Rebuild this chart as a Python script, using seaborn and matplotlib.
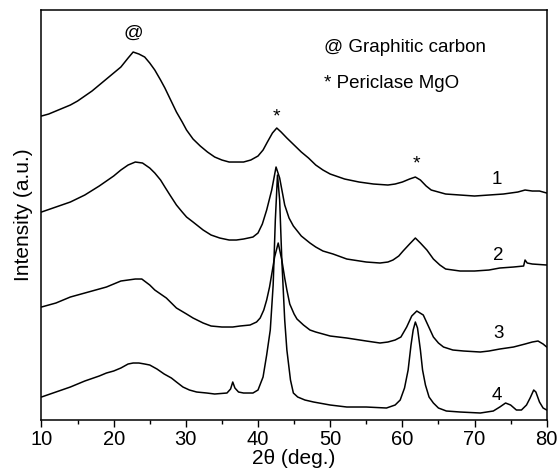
import numpy as np
import pandas as pd
import matplotlib
matplotlib.use("Agg")
import matplotlib.pyplot as plt
import seaborn as sns
from matplotlib.ticker import MultipleLocator

# %%
# values (2theta in deg, intensity in arbitrary units, offsets included)
two_theta_1 = [10, 11, 12, 13, 14, 15, 16, 17, 18, 19, 20, 21, 22, 22.7, 23.5, 24.3, 25, 25.7,
               26.5, 27.1, 27.9, 28.7, 29.5, 30.1, 31, 32, 33, 34, 35, 36, 37, 38, 39, 40, 40.7,
               41.3, 42, 42.6, 43.2, 44, 45, 46, 47, 48, 49, 50, 52, 54, 56, 58, 59, 60, 61, 61.8,
               62.5, 63.3, 64, 65, 66, 68, 70, 72, 74, 76, 77, 78, 79, 80]
intensity_1 = [304, 306, 309, 312, 315, 319, 324, 329, 335, 341, 347, 353, 362, 368, 366, 363, 357, 350,
               340, 332, 320, 308, 298, 290, 281, 274, 268, 263, 260, 258, 258, 258, 260, 264, 270,
               278, 287, 292, 288, 282, 275, 268, 262, 255, 250, 246, 241, 238, 236, 235, 236, 238, 241, 243,
               240, 234, 230, 228, 226, 225, 224, 225, 226, 228, 230, 229, 229, 227]

two_theta_2 = [10, 12, 14, 16, 18, 19, 20, 21, 22, 23, 24, 25, 25.7, 26.5, 27.1, 27.8, 28.7, 29.5,
               30.1, 31, 32.4, 33.5, 34.7, 36, 37, 38, 39.3, 40, 40.6, 41.2, 41.9, 42.5, 43, 43.7,
               44.3, 44.9, 46, 47.2, 48, 49, 50.4, 52.3, 55, 56.9, 58, 58.7, 59.5, 60.1, 61, 61.8,
               62.5, 63.4, 64.3, 65.2, 66, 68, 70, 72, 73.5, 75.4, 76.8, 77, 77.3, 78, 80]
intensity_2 = [208, 213, 218, 225, 234, 239, 244, 250, 255, 258, 257, 252, 247, 240, 233, 225, 215, 208,
               203, 198, 190, 185, 182, 180, 180, 181, 183, 187, 196, 210, 230, 253, 242, 215,
               202, 194, 184, 177, 173, 169, 166, 161, 158, 157, 158, 160, 164, 169, 176, 182,
               177, 170, 161, 155, 151, 149, 149, 150, 152, 153, 154, 160, 157, 156, 155]

two_theta_3 = [10, 12, 14, 16, 18, 19, 20, 21, 22, 23, 23.9, 25, 25.7, 26.5, 27.3, 28, 28.7, 30.1,
               31, 32.4, 33.5, 35, 36.5, 37.5, 38.9, 39.8, 40.3, 40.8, 41.2, 41.6, 42, 42.3, 42.8,
               43.3, 43.7, 44, 44.4, 45, 45.4, 46.3, 47.2, 48, 49, 50, 52.3, 55, 56.9, 58, 59, 59.8,
               60.6, 61.3, 62, 62.9, 63.6, 64.3, 65, 65.7, 67, 68.5, 70.8, 72, 73.5, 75.4, 77, 78,
               78.8, 79.5, 80]
intensity_3 = [113, 117, 123, 127, 131, 133, 136, 139, 140, 141, 141, 135, 130, 126, 122, 117, 112, 106,
               102, 97, 94, 93, 93, 94, 95, 98, 102, 110, 120, 133, 150, 163, 177,
               160, 142, 130, 116, 106, 101, 95, 90, 88, 86, 84, 82, 79, 77, 78, 80, 83,
               93, 104, 109, 105, 94, 83, 77, 73, 70, 69, 68, 69, 71, 73, 76, 78,
               79, 76, 73]

two_theta_4 = [10, 12, 14, 16, 18, 19, 20, 21, 22, 22.7, 23.5, 24.3, 25, 26, 27, 28, 28.7, 29.6,
               30.5, 31.5, 32.9, 34, 35.7, 36.2, 36.5, 36.8, 37.3, 38, 39.3, 40, 40.7, 41.2, 41.7,
               42.1, 42.4, 42.7, 43, 43.3, 43.7, 44, 44.5, 44.9, 45.5, 46.5, 47.7, 50, 52.3, 55,
               57.8, 59, 59.7, 60.3, 60.8, 61.2, 61.5, 61.8, 62.1, 62.5, 62.8, 63.2, 63.7, 64.3,
               65, 66.1, 68, 70.8, 72.6, 73.5, 74.3, 75, 75.8, 76.5, 77.2, 77.7, 78.2, 78.5, 79,
               79.5, 80]
intensity_4 = [23, 28, 33, 39, 44, 47, 49, 52, 56, 57, 57, 56, 55, 51, 46, 42, 38, 33,
               30, 28, 27, 26, 27, 31, 38, 32, 28, 27, 27, 30, 43, 65, 90,
               135, 200, 245, 220, 160, 100, 70, 40, 27, 23, 20, 18, 15, 13, 13,
               12, 15, 20, 32, 50, 75, 90, 98, 92, 70, 50, 35, 23, 17,
               12, 9, 8, 7, 9, 13, 17, 15, 10, 10, 15, 22, 30, 28, 18,
               12, 10]

curve_labels = ["1", "2", "3", "4"]
label_pos = [(73.1, 241), (73.3, 165), (73.3, 87), (73.1, 25)]

# %%
sns.set_style("ticks")
plt.rcParams["font.family"] = ["Liberation Sans", "DejaVu Sans"]
plt.rcParams["text.color"] = "black"
plt.rcParams["axes.labelcolor"] = "black"
plt.rcParams["xtick.color"] = "black"

fig = plt.figure(figsize=(5.59, 4.74), dpi=100)
ax = fig.add_axes([0.0742, 0.1139, 0.9038, 0.866])

curves = [
    (two_theta_1, intensity_1),
    (two_theta_2, intensity_2),
    (two_theta_3, intensity_3),
    (two_theta_4, intensity_4),
]
for x, y in curves:
    sns.lineplot(x=x, y=y, ax=ax, color="black", linewidth=1.1,
                 estimator=None, sort=False)

for lab, (lx, ly) in zip(curve_labels, label_pos):
    ax.text(lx, ly, lab, fontsize=13.5, ha="center", va="center", color="black")

ax.text(22.7, 387, "@", fontsize=14, ha="center", va="center", color="black")
ax.text(42.6, 303, "*", fontsize=14, ha="center", va="center", color="black")
ax.text(62.0, 256, "*", fontsize=14, ha="center", va="center", color="black")
ax.text(49.2, 373, "@ Graphitic carbon", fontsize=13.5, ha="left", va="center", color="black")
ax.text(49.2, 337, "* Periclase MgO", fontsize=13.5, ha="left", va="center", color="black")

ax.set_xlim(10, 80)
ax.set_ylim(0, 410.5)
ax.xaxis.set_major_locator(MultipleLocator(10))
ax.xaxis.set_minor_locator(MultipleLocator(5))
ax.set_yticks([])
ax.tick_params(axis="x", which="major", direction="out", length=5, width=1,
               labelsize=14.5, pad=2, colors="black")
ax.tick_params(axis="x", which="minor", direction="out", length=3, width=1, colors="black")

for sp in ax.spines.values():
    sp.set_visible(True)
    sp.set_color("black")
    sp.set_linewidth(1.1)

ax.set_xlabel("2θ (deg.)", fontsize=15, labelpad=0, color="black")
ax.set_ylabel("Intensity (a.u.)", fontsize=15, labelpad=6, color="black")

plt.savefig("out.png", dpi=100)
plt.close()
